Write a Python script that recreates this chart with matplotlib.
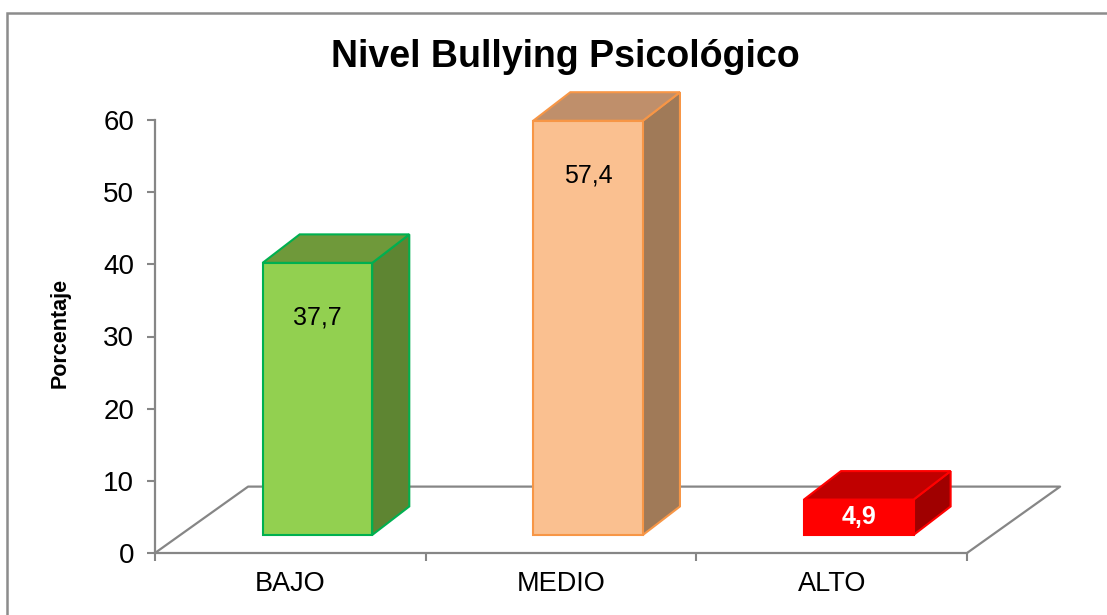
import matplotlib.pyplot as plt
from matplotlib.patches import Polygon, Rectangle

# data
categories = ['BAJO', 'MEDIO', 'ALTO']
values = [37.7, 57.4, 4.9]
labels = ['37,7', '57,4', '4,9']
front_colors = ['#92D050', '#FAC090', '#FF0000']
top_colors = ['#6F993A', '#BF8F6B', '#C00000']
side_colors = ['#5E8532', '#A07A58', '#A00000']
edge_colors = ['#00B050', '#F79646', '#FF0000']
label_colors = ['black', 'black', 'white']
label_weights = ['normal', 'normal', 'bold']

plt.rcParams['font.family'] = ['Liberation Sans', 'DejaVu Sans']

W, H = 1107, 615
fig = plt.figure(figsize=(W / 100, H / 100), dpi=100)
ax = fig.add_axes([155 / W, (H - 553) / H, (967 - 155) / W, (553 - 120) / H])
ax.set_xlim(-0.5, 2.5)
ax.set_ylim(0, 60)

grey = '#868686'

# pseudo-3D geometry (axis units)
floor_dx, floor_dy = 0.344, 9.2
bar_off_x, bar_off_y = 0.10, 2.5
bar_w = 0.405
bar_dx, bar_dy = 0.137, 3.95

# floor
ax.plot([-0.5, -0.5 + floor_dx, 2.5 + floor_dx, 2.5],
        [0, floor_dy, floor_dy, 0], color=grey, lw=1.6, clip_on=False, zorder=1)

# bars
for i, v in enumerate(values):
    x0 = i - bar_w / 2 + bar_off_x
    x1 = x0 + bar_w
    y0 = bar_off_y
    y1 = y0 + v
    front = [(x0, y0), (x1, y0), (x1, y1), (x0, y1)]
    top = [(x0, y1), (x1, y1), (x1 + bar_dx, y1 + bar_dy), (x0 + bar_dx, y1 + bar_dy)]
    side = [(x1, y0), (x1 + bar_dx, y0 + bar_dy), (x1 + bar_dx, y1 + bar_dy), (x1, y1)]
    for pts, fc in [(side, side_colors[i]), (top, top_colors[i]), (front, front_colors[i])]:
        ax.add_patch(Polygon(pts, closed=True, facecolor=fc, edgecolor=edge_colors[i],
                             lw=1.5, joinstyle='miter', clip_on=False, zorder=3))
    ly = y0 + max(v - 7.6, v / 2)
    ax.text((x0 + x1) / 2, ly, labels[i], ha='center', va='center', fontsize=18,
            color=label_colors[i], fontweight=label_weights[i], zorder=4)

# axes styling
for s in ['top', 'right']:
    ax.spines[s].set_visible(False)
for s in ['left', 'bottom']:
    ax.spines[s].set_color(grey)
    ax.spines[s].set_linewidth(1.6)
ax.set_yticks(range(0, 61, 10))
ax.tick_params(axis='y', length=6, width=1.5, color=grey, labelsize=20, pad=9)
ax.set_xticks([-0.5, 0.5, 1.5, 2.5])
ax.set_xticklabels([])
ax.tick_params(axis='x', which='major', length=6, width=1.5, color=grey)
ax.set_xticks([0, 1, 2], minor=True)
ax.set_xticklabels(categories, minor=True)
ax.tick_params(axis='x', which='minor', length=0, labelsize=19.5, pad=13)
ax.set_facecolor('none')

fig.text(60 / W, 1 - 333 / H, 'Porcentaje', rotation=90, ha='center', va='center',
         fontsize=15.5, fontweight='bold')
fig.text(565 / W, 1 - 57 / H, 'Nivel Bullying Psicológico', ha='center', va='center',
         fontsize=27, fontweight='bold')

# chart area border
fig.patches.append(Rectangle((7 / W, -0.1), 1.2, 1 - 13 / H + 0.1, transform=fig.transFigure,
                             fill=False, edgecolor='#8C8C8C', lw=1.8, zorder=0))

fig.savefig('out.png', dpi=100)
